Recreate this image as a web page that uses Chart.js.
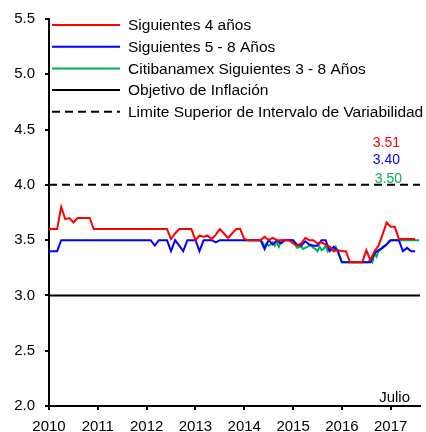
<!DOCTYPE html>
<html>
<head>
<meta charset="utf-8">
<script src="https://cdn.jsdelivr.net/npm/chart.js@4/dist/chart.umd.min.js"></script>
<style>
  html, body { margin: 0; padding: 0; background: #fff; }
  #wrap { width: 426px; height: 432px; }
</style>
</head>
<body>
<div id="wrap"><canvas id="c" width="426" height="432"></canvas></div>
<script>
// Year labels for the horizontal axis (one tick every 12 months, starting Jan 2010)
const years = ['2010', '2011', '2012', '2013', '2014', '2015', '2016', '2017'];

// Monthly expectations, Jan 2010 .. Jul 2017 (%)
const siguientes4 = [
  3.6, 3.6, 3.6, 3.8, 3.69, 3.7, 3.66, 3.7, 3.7, 3.7, 3.7, 3.6,
  3.6, 3.6, 3.6, 3.6, 3.6, 3.6, 3.6, 3.6, 3.6, 3.6, 3.6, 3.6,
  3.6, 3.6, 3.6, 3.6, 3.6, 3.6, 3.51, 3.56, 3.6, 3.6, 3.6, 3.6,
  3.5, 3.54, 3.53, 3.54, 3.51, 3.55, 3.6, 3.56, 3.52, 3.56, 3.6, 3.6,
  3.51, 3.5, 3.5, 3.5, 3.5, 3.53, 3.5, 3.52, 3.5, 3.5, 3.5, 3.5,
  3.47, 3.45, 3.47, 3.52, 3.5, 3.5, 3.47, 3.48, 3.46, 3.44, 3.4, 3.41,
  3.4, 3.4, 3.3, 3.3, 3.3, 3.3, 3.41, 3.32, 3.4, 3.45, 3.55, 3.66,
  3.62, 3.62, 3.51, 3.51, 3.51, 3.51, 3.51
];
const siguientes5a8 = [
  3.4, 3.4, 3.4, 3.5, 3.5, 3.5, 3.5, 3.5, 3.5, 3.5, 3.5, 3.5,
  3.5, 3.5, 3.5, 3.5, 3.5, 3.5, 3.5, 3.5, 3.5, 3.5, 3.5, 3.5,
  3.5, 3.5, 3.45, 3.5, 3.5, 3.5, 3.4, 3.5, 3.45, 3.4, 3.5, 3.5,
  3.5, 3.4, 3.5, 3.5, 3.5, 3.48, 3.5, 3.5, 3.5, 3.5, 3.5, 3.5,
  3.5, 3.5, 3.5, 3.5, 3.5, 3.42, 3.5, 3.46, 3.5, 3.47, 3.5, 3.5,
  3.5, 3.46, 3.45, 3.49, 3.46, 3.45, 3.45, 3.5, 3.5, 3.4, 3.44, 3.4,
  3.3, 3.3, 3.3, 3.3, 3.3, 3.3, 3.3, 3.3, 3.38, 3.41, 3.43, 3.46,
  3.5, 3.5, 3.5, 3.4, 3.43, 3.4, 3.4
];
// Biweekly survey, from Jan 2014 onwards (two readings per month)
const citibanamexStart = 48;
const citibanamex = [
  3.5, 3.5, 3.5, 3.5, 3.5, 3.5, 3.5, 3.5, 3.5,
  3.48, 3.45, 3.47, 3.45, 3.46, 3.48, 3.45, 3.48, 3.44,
  3.5, 3.5, 3.5, 3.5, 3.5, 3.5, 3.5,
  3.46, 3.43, 3.44, 3.44, 3.42, 3.43, 3.44, 3.45, 3.45, 3.43, 3.42, 3.4,
  3.44, 3.41, 3.42, 3.45, 3.4, 3.44, 3.42, 3.4, 3.44, 3.4, 3.35,
  3.3, 3.3, 3.3, 3.3, 3.3, 3.3, 3.3, 3.3, 3.3, 3.3, 3.3, 3.3, 3.3, 3.3,
  3.33, 3.3, 3.38, 3.35, 3.4, 3.41, 3.44, 3.45, 3.46, 3.49,
  3.5, 3.5, 3.5, 3.5, 3.5, 3.5, 3.5, 3.5, 3.5, 3.5, 3.5, 3.5, 3.5, 3.5, 3.5
];
// Reference levels
const objetivoInflacion = 3.0;
const limiteSuperior = 4.0;

const seriesLabels = [
  'Siguientes 4 años',
  'Siguientes 5 - 8 Años',
  'Citibanamex Siguientes 3 - 8 Años',
  'Objetivo de Inflación',
  'Limite Superior de Intervalo de Variabilidad'
];
const lastMonthLabel = 'Julio';

const X_MAX = 91.2;
const FONT = '"Liberation Sans", Arial, sans-serif';

const monthly = arr => arr.map((v, i) => ({ x: i, y: v }));
const biweekly = arr => arr.map((v, j) => ({ x: citibanamexStart + j / 2, y: v }));
const flat = v => [{ x: 0, y: v }, { x: X_MAX, y: v }];

const lineDefaults = { borderWidth: 2, pointRadius: 0, tension: 0, fill: false };

const datasets = [
  { label: seriesLabels[0], data: monthly(siguientes4), borderColor: '#FF0000', ...lineDefaults },
  { label: seriesLabels[1], data: monthly(siguientes5a8), borderColor: '#0000FF', ...lineDefaults },
  { label: seriesLabels[2], data: biweekly(citibanamex), borderColor: '#00B050', ...lineDefaults },
  { label: seriesLabels[3], data: flat(objetivoInflacion), borderColor: '#000000', ...lineDefaults },
  { label: seriesLabels[4], data: flat(limiteSuperior), borderColor: '#000000', borderDash: [8, 5], ...lineDefaults }
];

// Legend drawn inside the plot area, plus the latest-value labels
const overlayPlugin = {
  id: 'overlay',
  afterDraw(chart) {
    const { ctx, chartArea } = chart;
    ctx.save();
    ctx.font = '15.5px ' + FONT;
    ctx.textBaseline = 'middle';
    chart.data.datasets.forEach((ds, k) => {
      const y = chartArea.top + 6 + k * 21.7;
      const x0 = chartArea.left + 3;
      ctx.strokeStyle = ds.borderColor;
      ctx.lineWidth = 2;
      ctx.setLineDash(ds.borderDash || []);
      ctx.beginPath();
      ctx.moveTo(x0, y);
      ctx.lineTo(x0 + 68, y);
      ctx.stroke();
      ctx.setLineDash([]);
      ctx.fillStyle = '#000';
      ctx.textAlign = 'left';
      ctx.fillText(ds.label, x0 + 76, y + 1);
    });

    // latest readings of the three survey series
    ctx.font = '14px ' + FONT;
    ctx.textAlign = 'right';
    const ends = [
      { v: siguientes4[siguientes4.length - 1], c: '#FF0000', dy: 124, dx: 20 },
      { v: siguientes5a8[siguientes5a8.length - 1], c: '#0000FF', dy: 141, dx: 20 },
      { v: citibanamex[citibanamex.length - 1], c: '#00B050', dy: 160, dx: 18 }
    ];
    ends.forEach(e => {
      ctx.fillStyle = e.c;
      ctx.fillText(e.v.toFixed(2), chartArea.right - e.dx, chartArea.top + e.dy);
    });

    ctx.font = '15px ' + FONT;
    ctx.fillStyle = '#000';
    ctx.fillText(lastMonthLabel, chartArea.right - 10, chartArea.bottom - 8);
    ctx.restore();
  }
};

new Chart(document.getElementById('c'), {
  type: 'line',
  data: { datasets },
  options: {
    responsive: false,
    animation: false,
    devicePixelRatio: 1,
    layout: { padding: { top: 17, right: 6, left: 0, bottom: 0 } },
    plugins: { legend: { display: false }, tooltip: { enabled: false } },
    scales: {
      x: {
        type: 'linear',
        min: 0,
        max: X_MAX,
        afterBuildTicks: s => { s.ticks = years.map((y, k) => ({ value: k * 12 })); },
        afterFit: s => { s.height = 26; },
        ticks: {
          callback: v => years[Math.round(v / 12)],
          color: '#000',
          font: { family: FONT, size: 15 },
          padding: 8,
          maxRotation: 0,
          autoSkip: false
        },
        grid: { display: true, drawOnChartArea: false, drawTicks: true, tickLength: 4, color: '#000', lineWidth: 2 },
        border: { display: true, color: '#000', width: 2 }
      },
      y: {
        min: 2,
        max: 5.5,
        afterFit: s => { s.width = 49; },
        ticks: {
          stepSize: 0.5,
          callback: v => Number(v).toFixed(1),
          color: '#000',
          font: { family: FONT, size: 15 },
          padding: 10
        },
        grid: { display: true, drawOnChartArea: false, drawTicks: true, tickLength: 4, color: '#000', lineWidth: 2 },
        border: { display: true, color: '#000', width: 2 }
      }
    }
  },
  plugins: [overlayPlugin]
});
</script>
</body>
</html>
